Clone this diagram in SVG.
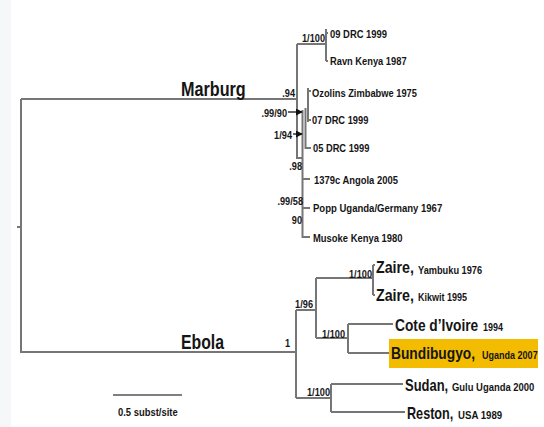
<svg xmlns="http://www.w3.org/2000/svg" width="544" height="427" viewBox="0 0 544 427">
<style>
text{font-family:"Liberation Sans",Arial,sans-serif;font-weight:bold;fill:#151515}
.s{font-size:11.5px}
.xs{font-size:10.5px}
.l{font-size:16px}
.xl{font-size:20px}
.e{text-anchor:end}
.br{fill:none;stroke:#767676;stroke-width:2}
.ar{fill:none;stroke:#111;stroke-width:1.3}
</style>
<defs>
<marker id="ah" viewBox="0 0 8 8" refX="7" refY="4" markerWidth="7" markerHeight="7" markerUnits="userSpaceOnUse" orient="auto">
<path d="M0,0 L8,4 L0,8 z" fill="#111"/>
</marker>
</defs>
<rect width="544" height="427" fill="#fff"/>
<rect width="11" height="427" fill="#f5f7f9"/>

<g id="connectors">
<path class="br" d="M21,99 V353 M17,227 H21"/>
<path class="br" d="M21,99 H297 M297,44 V158 H302.5 M297,44 H326 M326,29 V61 M326,33 H328 M326,61 H328"/>
<path class="br" d="M302.5,110 V238 M302.5,179 H310 M302.5,208 H310 M302.5,237 H310"/>
<path class="br" d="M305.5,108 V148 H311 M308,88 V122 M308,91 H311 M308,120 H311"/>
<path class="ar" d="M288,112 H302" marker-end="url(#ah)"/>
<path class="ar" d="M293,134 H302" marker-end="url(#ah)"/>
<path class="br" d="M21,352 H296 M296,310 V398 M296,310 H316 M316,278 V338"/>
<path class="br" d="M316,278 H373 M373,265 V295 M373,265 H375 M373,295 H375"/>
<path class="br" d="M316,338 H348 M348,324 V353 M348,324 H393 M348,353 H389"/>
<path class="br" d="M296,398 H331 M331,384 V412 M331,384 H403 M331,412 H405"/>
<path d="M113,395 H182" stroke="#555" stroke-width="1.6"/>
</g>

<g id="clade-labels">
<text class="xl" transform="translate(181,95.5) scale(.81,1)">Marburg</text>
<text class="xl" transform="translate(181,349) scale(.79,1)">Ebola</text>
</g>

<g id="support-values">
<text class="s e" transform="translate(325,41.5) scale(.8,1)">1/100</text>
<text class="s e" transform="translate(295,97) scale(.8,1)">.94</text>
<text class="s e" transform="translate(287,117) scale(.8,1)">.99/90</text>
<text class="s e" transform="translate(292,139) scale(.8,1)">1/94</text>
<text class="s e" transform="translate(302,170) scale(.8,1)">.98</text>
<text class="s e" transform="translate(303,205) scale(.8,1)">.99/58</text>
<text class="s e" transform="translate(302,224) scale(.8,1)">90</text>
<text class="s e" transform="translate(372,277.5) scale(.8,1)">1/100</text>
<text class="s e" transform="translate(313,308) scale(.8,1)">1/96</text>
<text class="s e" transform="translate(345,337.5) scale(.8,1)">1/100</text>
<text class="s e" transform="translate(290,347) scale(.8,1)">1</text>
<text class="s e" transform="translate(330,396) scale(.8,1)">1/100</text>
</g>

<g id="n-09drc"><text class="s" transform="translate(330,37.5) scale(.82,1)">09 DRC 1999</text></g>
<g id="n-ravn"><text class="s" transform="translate(330,65) scale(.81,1)">Ravn Kenya 1987</text></g>
<g id="n-ozolins"><text class="s" transform="translate(312,96.5) scale(.81,1)">Ozolins Zimbabwe 1975</text></g>
<g id="n-07drc"><text class="s" transform="translate(312,124) scale(.81,1)">07 DRC 1999</text></g>
<g id="n-05drc"><text class="s" transform="translate(313,152) scale(.81,1)">05 DRC 1999</text></g>
<g id="n-1379c"><text class="s" transform="translate(314,184) scale(.82,1)">1379c Angola 2005</text></g>
<g id="n-popp"><text class="s" transform="translate(313,212) scale(.83,1)">Popp Uganda/Germany 1967</text></g>
<g id="n-musoke"><text class="s" transform="translate(313,242) scale(.82,1)">Musoke Kenya 1980</text></g>

<g id="n-zaire-yambuku">
<text class="l" transform="translate(376,273) scale(.89,1)">Zaire,</text>
<text class="xs" transform="translate(418,273.5) scale(.88,1)">Yambuku 1976</text>
</g>
<g id="n-zaire-kikwit">
<text class="l" transform="translate(376,301) scale(.89,1)">Zaire,</text>
<text class="xs" transform="translate(418,301) scale(.86,1)">Kikwit 1995</text>
</g>
<g id="n-cote">
<text class="l" transform="translate(395,331) scale(.86,1)">Cote d’Ivoire</text>
<text class="xs" transform="translate(483,331) scale(.85,1)">1994</text>
</g>
<g id="n-bundibugyo">
<rect x="389" y="339" width="149" height="29" fill="#f4bc00"/>
<text class="l" style="font-size:17px" transform="translate(391,358.5) scale(.81,1)">Bundibugyo,</text>
<text class="xs" transform="translate(482,358.5) scale(.86,1)">Uganda 2007</text>
</g>
<g id="n-sudan">
<text class="l" transform="translate(405,391) scale(.81,1)">Sudan,</text>
<text class="xs" transform="translate(452,391) scale(.9,1)">Gulu Uganda 2000</text>
</g>
<g id="n-reston">
<text class="l" transform="translate(407,419) scale(.79,1)">Reston,</text>
<text class="xs" transform="translate(458,419) scale(.92,1)">USA 1989</text>
</g>

<g id="scale">
<text class="s" transform="translate(118,416) scale(.82,1)">0.5 subst/site</text>
</g>
</svg>
